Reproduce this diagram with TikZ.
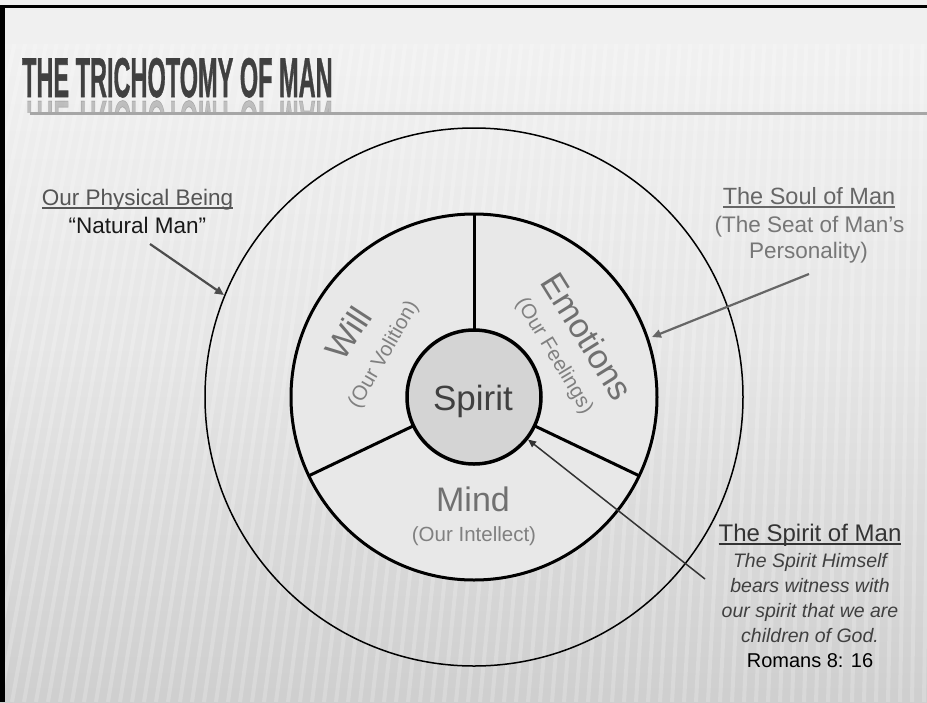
\documentclass[tikz,border=0pt]{standalone}
\usepackage{fontspec}
\setmainfont{Liberation Sans}
\newfontfamily\titlefont[FakeBold=1.2]{Liberation Sans Bold}
\usetikzlibrary{arrows.meta}
\definecolor{titlegray}{HTML}{404040}
\definecolor{rulegray}{HTML}{A6A6A6}
\definecolor{soulfill}{HTML}{E8E8E8}
\definecolor{spiritfill}{HTML}{D4D4D4}
\definecolor{biglabel}{HTML}{707070}
\definecolor{sublabel}{HTML}{808080}
\definecolor{physgray}{HTML}{555555}
\definecolor{soulgray}{HTML}{666666}
\definecolor{seatgray}{HTML}{777777}
\definecolor{spiritdark}{HTML}{333333}
\definecolor{versegray}{HTML}{404040}
\newcommand\myul[1]{\setbox0\hbox{#1}\leavevmode\rlap{\rule[-3.5pt]{\wd0}{1.3pt}}\box0}
\tikzset{
  titletext/.style={anchor=base west, inner sep=0pt, text=titlegray, xscale=0.42,
    font=\titlefont\fontsize{56}{56}\selectfont},
  biglbl/.style={inner sep=0pt, text=biglabel, font=\fontsize{34}{34}\selectfont},
  sublbl/.style={inner sep=0pt, text=sublabel, font=\fontsize{20.5}{20.5}\selectfont},
  sidelbl/.style={anchor=base, inner sep=0pt, font=\fontsize{22.5}{22.5}\selectfont},
  versetxt/.style={anchor=base, inner sep=0pt, text=versegray, font=\fontsize{19.5}{19.5}\selectfont\itshape},
  ringline/.style={line width=3pt, draw=black},
  pointer/.style={line width=2.2pt, -{Triangle[length=9pt,width=8pt]}},
}
\begin{document}
\begin{tikzpicture}[x=1pt,y=-1pt]
\useasboundingbox (0,0) rectangle (927,702);
% background
\shade[top color=white!95!black, bottom color=white!81!black, middle color=white!90!black] (0,0) rectangle (927,702);
\fill[white!94!black] (0,0) rectangle (927,44);
\begin{scope}
  \clip (0,44) rectangle (927,702);
  \foreach \i in {-12,...,80} {
    \pgfmathsetmacro\xa{\i*12}
    \pgfmathsetmacro\xb{\xa+120-0.12*\xa}
    \draw[white, opacity=0.2, line width=4pt] (\xa,702) -- (\xb,44);
  }
\end{scope}
% frame
\fill[black] (0,4.5) rectangle (927,7.5);
\fill[black] (0,4.5) rectangle (5,702);
% title
\node[titletext] (title) at (22,97) {THE TRICHOTOMY OF MAN};
\begin{scope}
  \clip (0,99) rectangle (927,112);
  \node[titletext, yscale=-1, opacity=0.28] (titlerefl) at (22,101) {THE TRICHOTOMY OF MAN};
\end{scope}
\fill[rulegray] (30,112) rectangle (927,115);
% outer circle (physical)
\coordinate (c) at (474,397);
\draw[line width=1.5pt] (c) circle (269pt);
% soul
\draw[ringline, fill=soulfill] (c) circle (183pt);
% dividers
\draw[ringline] (474,330) -- (474,214);
\draw[ringline] (534.5,425.8) -- (639.2,475.8);
\draw[ringline] (413.5,425.8) -- (308.8,475.8);
% spirit
\node[circle, minimum size=134pt, inner sep=0pt, draw=black, line width=3.5pt, fill=spiritfill] (spirit) at (c) {};
\node[anchor=base, inner sep=0pt, text=titlegray, font=\fontsize{35}{35}\selectfont] (spirittxt) at (473,410) {Spirit};
% sector labels
\node[biglbl, rotate=57] (will) at (348,333) {Will};
\node[sublbl, rotate=60] (volition) at (384,355) {(Our Volition)};
\node[biglbl, rotate=-58] (emotions) at (587,336) {Emotions};
\node[sublbl, rotate=-59] (feelings) at (554,356) {(Our Feelings)};
\node[biglbl, anchor=base] (mind) at (473,511) {Mind};
\node[sublbl, anchor=base] (intellect) at (474,541) {(Our Intellect)};
% left labels
\node[sidelbl, text=physgray] (phys) at (137.5,205) {\myul{Our Physical Being}};
\node[sidelbl, text=black!90] (natural) at (137.5,233) {“Natural Man”};
% right upper labels
\node[sidelbl, text=soulgray, font=\fontsize{23.5}{23.5}\selectfont] (soul) at (809,204) {\myul{The Soul of Man}};
\node[sidelbl, text=seatgray] (seat1) at (809.5,232) {(The Seat of Man’s};
\node[sidelbl, text=seatgray] (seat2) at (808.5,258) {Personality)};
% right lower labels
\node[sidelbl, text=spiritdark, font=\fontsize{24}{24}\selectfont] (spiritman) at (810,541) {\myul{The Spirit of Man}};
\node[versetxt] (v1) at (810,567) {The Spirit Himself};
\node[versetxt] (v2) at (810,592) {bears witness with};
\node[versetxt] (v3) at (810,617) {our spirit that we are};
\node[versetxt] (v4) at (810,642) {children of God.};
\node[anchor=base, inner sep=0pt, text=black, font=\fontsize{20}{20}\selectfont] (romans) at (810,667) {Romans 8: 16};
% arrows
\coordinate (physA) at (150,244);
\coordinate (physB) at (224,295);
\draw[pointer, draw=physgray!90!black, fill=physgray] (physA) -- (physB);
\coordinate (soulA) at (809,274);
\coordinate (soulB) at (652,337);
\draw[pointer, draw=soulgray, fill=soulgray] (soulA) -- (soulB);
\coordinate (spA) at (705,579);
\draw[line width=1.5pt, draw=spiritdark, -{Triangle[length=8pt,width=7pt]}] (spA) -- (spirit);
\end{tikzpicture}
\end{document}
